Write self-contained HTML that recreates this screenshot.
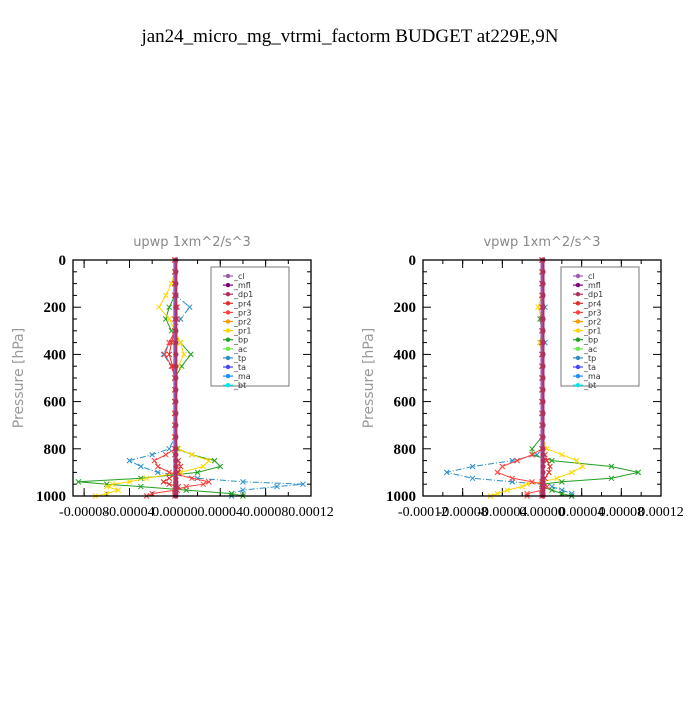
<!DOCTYPE html>
<html><head><meta charset="utf-8"><style>
body{margin:0;background:#fff;}
svg text{font-family:"Liberation Serif",serif;}
.sans{font-family:"DejaVu Sans","Liberation Sans",sans-serif;}
</style></head><body>
<svg id="chart" width="700" height="700" viewBox="0 0 700 700">
<rect width="700" height="700" fill="#fff"/>
<text x="350" y="42" text-anchor="middle" font-size="19">jan24_micro_mg_vtrmi_factorm  BUDGET at229E,9N</text>
<g id="panels"></g>
</svg>
<script>
const levels=[0,50,100,150,200,250,300,350,400,450,500,550,600,650,700,750,800,825,850,875,900,925,940,950,960,975,990,1000];
const seriesNames=["_cl","_mfl","_dp1","_pr4","_pr3","_pr2","_pr1","_bp","_ac","_tp","_ta","_ma","_bt"];
const seriesColors=["#9b59b6","#800080","#b03060","#e0302a","#ff4040","#ff9900","#ffd700","#22a022","#66ee44","#2a8fc8","#4444ff","#1e90ff","#00e5ee"];
const yTicks=[0,200,400,600,800,1000];
// upwp values (x1e-5)
const upTp=[0,0,0,0.1,1.3,0.5,0,-0.5,-1.0,-0.3,0,0,0,0,0,0,-0.5,-2.0,-4.0,-3.0,-1.5,2,6,11.3,9,6,5,5];
const upBp=[0,0,0,0,-0.5,-0.8,-0.3,0.5,1.4,0.6,0,0,0,0,0,0,0.2,1.5,3.5,4,2,-3,-8.5,-6,-3,1,5,6];
const upPr1=[0,0,-0.3,-0.8,-1.4,-0.5,0,0.5,0.8,0.3,0,0,0,0,0,0,0.3,1.5,3,2.5,0.5,-2.5,-4,-5.5,-6,-5,-6,-7];
const upPr3=[0,0,0,0,0.2,0.2,0,-0.5,-0.9,-0.3,0,0,0,0,0,0,0,-0.8,-1.8,-1.5,-0.5,1.5,3,2.5,1,0,-2,-2.5];
const upPr4=[0,0,0,0,0.1,0,0,-0.3,-0.5,-0.2,0,0,0,0,0,0,0,0,0.3,0.5,0.3,-0.5,-1,-0.5,0.3,0.2,0,0];
// vpwp values (x1e-5)
const vpTp=[0,0,0,0,0.3,0,0,0.3,0,0,0,0,0,0,0,0,0,-0.5,-3,-7,-9.6,-7,-3,0,1,2,3,3];
const vpBp=[0,0,0,0,0,-0.2,0,-0.2,0,0,0,0,0,0,0,0,-1,-1,1,7,9.7,7,2,0,0,1,2,3];
const vpPr1=[0,0,0,0,-0.4,0,0,-0.2,0,0,0,0,0,0,0,0,0.5,2,3.5,4.1,3,1.5,0,-1.5,-2,-3.5,-4.5,-5.2];
const vpPr3=[0,0,0,0,0,0,0,0,0,0,0,0,0,0,0,0,0,-1,-2.5,-4,-4.5,-3,-1,0,0.5,0,-1.5,-1.5];
const vpPr4=[0,0,0,0,0,0,0,0,0,0,0,0,0,0,0,0,0,0.3,0.5,0.8,0.7,0.3,0,0,0.2,0,0,0];

const NS="http://www.w3.org/2000/svg";
const root=document.getElementById('panels');
function mk(tag,attrs,parent){const e=document.createElementNS(NS,tag);for(const k in attrs)e.setAttribute(k,attrs[k]);(parent||root).appendChild(e);return e;}

function panel(cfg){
  const g=mk('g',{});
  
  
  const L=cfg.left,R=cfg.right,T=260,B=496;
  const xs=v=>L+(v*1e-5-cfg.xmin)/(cfg.xmax-cfg.xmin)*(R-L);
  const ys=p=>T+p/1000*(B-T);
  // title
  const t=mk('text',{x:(L+R)/2,y:246,'text-anchor':'middle','font-size':13,fill:'#888',class:'sans'},g);
  t.textContent=cfg.title;
  
  
  // y axis title
  const yt=mk('text',{x:0,y:0,'text-anchor':'middle','font-size':14,fill:'#999',class:'sans',transform:`translate(${L-50},${(T+B)/2}) rotate(-90)`},g);
  yt.textContent='Pressure [hPa]';
  
  
  // minor y ticks
  for(let p=0;p<=1000;p+=50){
    const len=(p%200===0)?8:4;
    mk('line',{x1:L,x2:L+len,y1:ys(p),y2:ys(p),stroke:'#000'},g);
    mk('line',{x1:R,x2:R-len,y1:ys(p),y2:ys(p),stroke:'#000'},g);
  }
  yTicks.forEach(p=>{
    const tx=mk('text',{x:L-7,y:ys(p)+5,'text-anchor':'end','font-size':15,'font-weight':'bold'},g);
    tx.textContent=String(p);
    
    
  });
  // x ticks
  cfg.xTicks.forEach((v,i)=>{
    const x=xs(v*1e5);
    mk('line',{x1:x,x2:x,y1:B,y2:B-8,stroke:'#000'},g);
    mk('line',{x1:x,x2:x,y1:T,y2:T+8,stroke:'#000'},g);
    const tx=mk('text',{x:x,y:516,'text-anchor':'middle','font-size':14},g);
    tx.textContent=cfg.xLabels[i];
    
    
  });
  for(let v=cfg.xTicks[0]-0.00002;v<=cfg.xmax+1e-9;v+=0.00002){
    if(v<cfg.xmin)continue;const x=xs(v*1e5);
    mk('line',{x1:x,x2:x,y1:B,y2:B-4,stroke:'#000'},g);
    mk('line',{x1:x,x2:x,y1:T,y2:T+4,stroke:'#000'},g);
  }
  const zeros=levels.map(()=>0);
  const series=[
    {d:cfg.tp,c:seriesColors[9],dash:'6,2,1,2',m:'*'},
    {d:cfg.bp,c:seriesColors[7],dash:'',m:'x'},
    {d:cfg.pr1,c:seriesColors[6],dash:'',m:'s'},
    {d:cfg.pr3,c:seriesColors[4],dash:'',m:'v'},
    {d:cfg.pr4,c:seriesColors[3],dash:'',m:'o'},
  ];
  series.forEach((s,si)=>{
    const pts=levels.map((p,i)=>xs(s.d[i]).toFixed(1)+','+ys(p).toFixed(1)).join(' ');
    const pl=mk('polyline',{points:pts,fill:'none',stroke:s.c,'stroke-width':1,'stroke-dasharray':s.dash},g);
    
    
    levels.forEach((p,i)=>{
      const x=xs(s.d[i]),y=ys(p);
      const mm=mk('path',{d:`M${x-2.5},${y-2.5}L${x+2.5},${y+2.5}M${x-2.5},${y+2.5}L${x+2.5},${y-2.5}`,stroke:s.c,'stroke-width':1,fill:'none'},g);
      
      
    });
  });
  // near-zero thick lines (cl, mfl, dp1)
  const zx=xs(0);
  const zl=mk('line',{x1:zx,x2:zx,y1:T,y2:B,stroke:'#9b59b6','stroke-width':3},g);
  
  
  mk('line',{x1:zx+1.5,x2:zx+1.5,y1:T,y2:B,stroke:'#b03060','stroke-width':2},g);
  levels.forEach(p=>{
    const c=mk('circle',{cx:zx+1,cy:ys(p),r:2.6,fill:'#b03060'},g);
    
    
  });
  // frame
  mk('rect',{x:L,y:T,width:R-L,height:B-T,fill:'none',stroke:'#000','stroke-width':1.3},g);
  // legend
  const lx=cfg.legX,ly=267;
  const lg=mk('g',{},g);
  
  
  mk('rect',{x:lx,y:ly,width:78,height:119,fill:'#fff',stroke:'#777','stroke-width':1},lg);
  seriesNames.forEach((n,i)=>{
    const y=ly+9+i*9.1;
    const e=mk('g',{},lg);
    
    
    mk('line',{x1:lx+12,x2:lx+22,y1:y,y2:y,stroke:seriesColors[i],'stroke-width':1.2},e);
    mk('circle',{cx:lx+17,cy:y,r:2.2,fill:seriesColors[i]},e);
    const tx=mk('text',{x:lx+23,y:y+3,'font-size':8,fill:'#333',class:'sans'},e);
    tx.textContent=n;
  });
}
panel({name:'upwp',title:'upwp    1xm^2/s^3',left:73,right:311,xmin:-0.0000898,xmax:0.00012,
  xTicks:[-0.00008,-0.00004,0,0.00004,0.00008,0.00012],xLabels:['-0.00008','-0.00004','0.00000','0.00004','0.00008','0.00012'],
  tp:upTp,bp:upBp,pr1:upPr1,pr3:upPr3,pr4:upPr4,legX:211});
panel({name:'vpwp',title:'vpwp    1xm^2/s^3',left:423,right:661,xmin:-0.00012,xmax:0.00012,
  xTicks:[-0.00012,-0.00008,-0.00004,0,0.00004,0.00008,0.00012],xLabels:['-0.00012','-0.00008','-0.00004','0.00000','0.00004','0.00008','0.00012'],
  tp:vpTp,bp:vpBp,pr1:vpPr1,pr3:vpPr3,pr4:vpPr4,legX:561});
</script>
</body></html>
